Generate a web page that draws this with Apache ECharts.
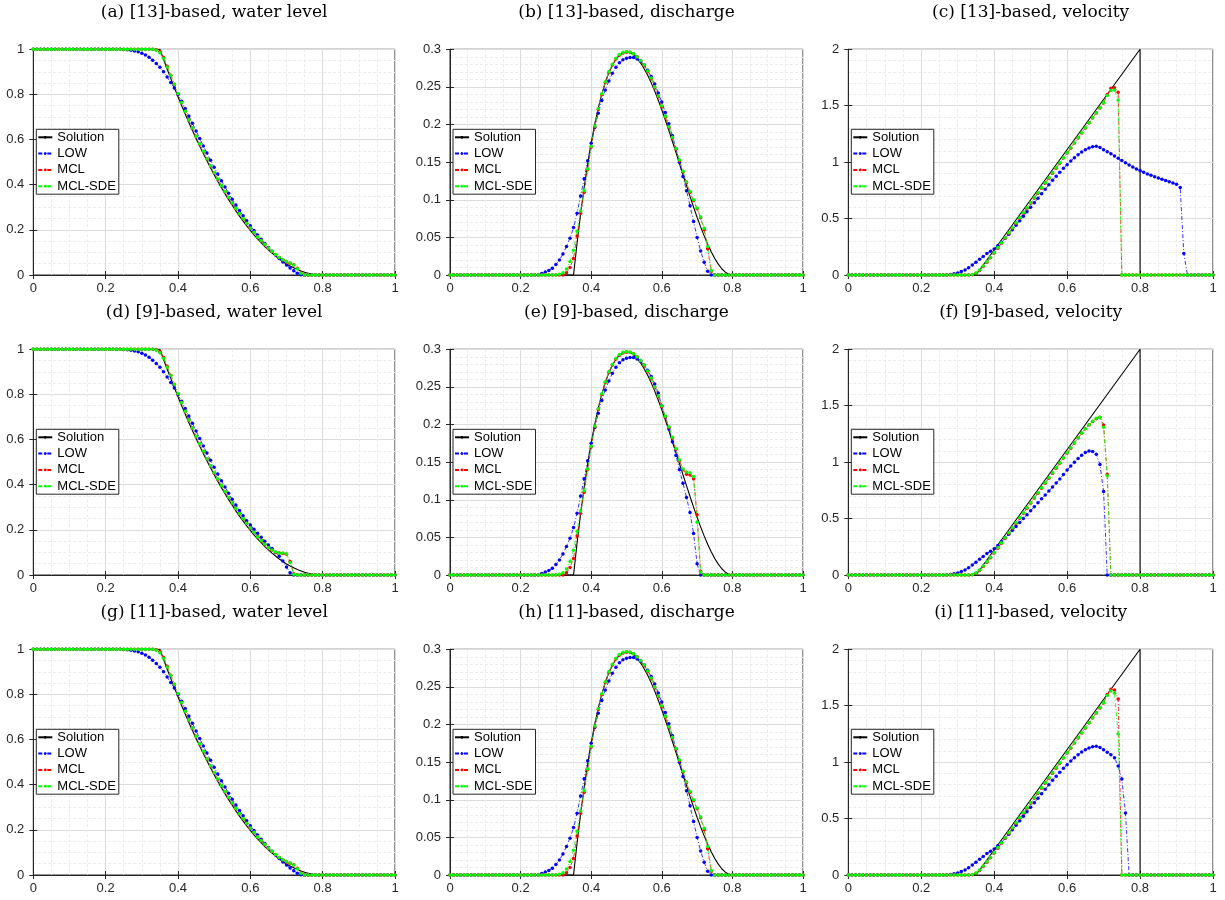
<!DOCTYPE html>
<html>
<head>
<meta charset="utf-8">
<script src="https://cdn.jsdelivr.net/npm/echarts@6/dist/echarts.min.js"></script>
<style>
  html, body { margin: 0; background: #fff; }
  #main { width: 1225px; height: 900px; }
</style>
</head>
<body>
<div id="main"></div>
<script>
// sample points of the numerical solutions (x = 0, 0.01, ..., 1)
const xGrid = Array.from({ length: 101 }, (_, i) => +(i / 100).toFixed(2));

const xTicks = [0, 0.2, 0.4, 0.6, 0.8, 1];
const levelTicks = [0, 0.2, 0.4, 0.6, 0.8, 1];
const dischargeTicks = [0, 0.05, 0.1, 0.15, 0.2, 0.25, 0.3];
const velocityTicks = [0, 0.5, 1, 1.5, 2];

const seriesNames = ['Solution', 'LOW', 'MCL', 'MCL-SDE'];

const titles = [
  '(a) [13]-based, water level', '(b) [13]-based, discharge', '(c) [13]-based, velocity',
  '(d) [9]-based, water level', '(e) [9]-based, discharge', '(f) [9]-based, velocity',
  '(g) [11]-based, water level', '(h) [11]-based, discharge', '(i) [11]-based, velocity'
];

// exact solution
const levelSol = [
  1,1,1,1,1,1,1,1,1,1,
  1,1,1,1,1,1,1,1,1,1,
  1,1,1,1,1,1,1,1,1,1,
  1,1,1,1,1,1,0.956,0.913,0.871,0.830,
  0.790,0.751,0.713,0.676,0.640,0.605,0.571,0.538,0.506,0.475,
  0.444,0.415,0.387,0.360,0.334,0.309,0.284,0.261,0.239,0.218,
  0.198,0.178,0.160,0.143,0.126,0.111,0.097,0.084,0.071,0.060,
  0.049,0.040,0.032,0.024,0.018,0.012,0.008,0.004,0.002,0.0005,
  0,0,0,0,0,0,0,0,0,0,
  0,0,0,0,0,0,0,0,0,0,
  0];
const dischargeSol = [
  0,0,0,0,0,0,0,0,0,0,
  0,0,0,0,0,0,0,0,0,0,
  0,0,0,0,0,0,0,0,0,0,
  0,0,0,0,0,0,0.0425,0.0812,0.1161,0.1476,
  0.1756,0.2003,0.2218,0.2404,0.2560,0.2689,0.2791,0.2868,0.2922,0.2953,
  0.2963,0.2953,0.2926,0.2880,0.2820,0.2743,0.2655,0.2554,0.2444,0.2323,
  0.2195,0.2060,0.1920,0.1775,0.1630,0.1481,0.1333,0.1187,0.1043,0.0903,
  0.0768,0.0640,0.0520,0.0409,0.0308,0.0219,0.0144,0.0083,0.0038,0.0010,
  0,0,0,0,0,0,0,0,0,0,
  0,0,0,0,0,0,0,0,0,0,
  0];
const velocitySolX = [0, 0.35, 0.8, 0.8, 1];
const velocitySol = [0, 0, 2, 0, 0];

// water level, [13]-based (also used for [11]-based)
const levelLow13 = [
  1,1,1,1,1,1,1,1,1,1,
  1,1,1,1,1,1,1,1,1,1,
  1,1,1,1,1,0.999,0.998,0.996,0.993,0.989,
  0.983,0.975,0.965,0.952,0.937,0.920,0.900,0.877,0.853,0.828,
  0.800,0.770,0.738,0.705,0.672,0.638,0.605,0.572,0.540,0.508,
  0.477,0.447,0.418,0.390,0.362,0.336,0.310,0.286,0.262,0.240,
  0.218,0.197,0.177,0.158,0.140,0.122,0.105,0.089,0.073,0.058,
  0.044,0.031,0.019,0.008,0.001,0,0,0,0,0,
  0,0,0,0,0,0,0,0,0,0,
  0,0,0,0,0,0,0,0,0,0,
  0];
const levelMcl13 = [
  1,1,1,1,1,1,1,1,1,1,
  1,1,1,1,1,1,1,1,1,1,
  1,1,1,1,1,1,1,1,1,1,
  1,1,1,1,0.998,0.990,0.965,0.925,0.885,0.845,
  0.803,0.763,0.724,0.686,0.650,0.614,0.580,0.547,0.514,0.483,
  0.453,0.424,0.396,0.369,0.343,0.318,0.294,0.271,0.249,0.228,
  0.207,0.188,0.169,0.152,0.135,0.119,0.104,0.090,0.077,0.066,
  0.058,0.052,0.045,0.030,0.010,0,0,0,0,0,
  0,0,0,0,0,0,0,0,0,0,
  0,0,0,0,0,0,0,0,0,0,
  0];
const levelSde13 = [
  1,1,1,1,1,1,1,1,1,1,
  1,1,1,1,1,1,1,1,1,1,
  1,1,1,1,1,1,1,1,1,1,
  1,1,1,1,0.996,0.985,0.960,0.922,0.884,0.845,
  0.804,0.764,0.725,0.687,0.651,0.615,0.581,0.548,0.515,0.484,
  0.454,0.425,0.397,0.370,0.344,0.319,0.295,0.272,0.250,0.229,
  0.208,0.189,0.170,0.153,0.136,0.120,0.105,0.091,0.078,0.068,
  0.060,0.053,0.044,0.028,0.008,0,0,0,0,0,
  0,0,0,0,0,0,0,0,0,0,
  0,0,0,0,0,0,0,0,0,0,
  0];

// water level, [9]-based
const levelLow9 = [
  1,1,1,1,1,1,1,1,1,1,
  1,1,1,1,1,1,1,1,1,1,
  1,1,1,1,1,0.999,0.998,0.996,0.993,0.989,
  0.983,0.975,0.965,0.952,0.937,0.920,0.900,0.877,0.853,0.828,
  0.800,0.770,0.738,0.705,0.672,0.638,0.605,0.572,0.540,0.508,
  0.477,0.447,0.418,0.390,0.362,0.336,0.310,0.286,0.262,0.240,
  0.222,0.203,0.185,0.167,0.150,0.133,0.117,0.100,0.083,0.062,
  0.035,0.010,0,0,0,0,0,0,0,0,
  0,0,0,0,0,0,0,0,0,0,
  0,0,0,0,0,0,0,0,0,0,
  0];
const levelMcl9 = [
  1,1,1,1,1,1,1,1,1,1,
  1,1,1,1,1,1,1,1,1,1,
  1,1,1,1,1,1,1,1,1,1,
  1,1,1,1,0.998,0.990,0.965,0.925,0.885,0.845,
  0.803,0.763,0.724,0.686,0.650,0.614,0.580,0.547,0.514,0.483,
  0.453,0.424,0.396,0.369,0.343,0.318,0.294,0.271,0.249,0.228,
  0.207,0.188,0.169,0.152,0.135,0.121,0.110,0.101,0.097,0.095,
  0.092,0.060,0.005,0,0,0,0,0,0,0,
  0,0,0,0,0,0,0,0,0,0,
  0,0,0,0,0,0,0,0,0,0,
  0];
const levelSde9 = [
  1,1,1,1,1,1,1,1,1,1,
  1,1,1,1,1,1,1,1,1,1,
  1,1,1,1,1,1,1,1,1,1,
  1,1,1,1,0.996,0.985,0.960,0.922,0.884,0.845,
  0.804,0.764,0.725,0.687,0.651,0.615,0.581,0.548,0.515,0.484,
  0.454,0.425,0.397,0.370,0.344,0.319,0.295,0.272,0.250,0.229,
  0.208,0.189,0.170,0.153,0.136,0.122,0.111,0.102,0.098,0.097,
  0.094,0.055,0.003,0,0,0,0,0,0,0,
  0,0,0,0,0,0,0,0,0,0,
  0,0,0,0,0,0,0,0,0,0,
  0];

// discharge, [13]-based (also used for [11]-based)
const dischargeLow13 = [
  0,0,0,0,0,0,0,0,0,0,
  0,0,0,0,0,0,0,0,0,0,
  0,0,0,0,0,0,0.002,0.004,0.006,0.009,
  0.014,0.020,0.028,0.038,0.049,0.063,0.082,0.105,0.128,0.152,
  0.175,0.196,0.215,0.232,0.246,0.258,0.268,0.276,0.282,0.286,
  0.288,0.289,0.289,0.287,0.284,0.279,0.272,0.264,0.254,0.242,
  0.230,0.216,0.201,0.185,0.168,0.150,0.131,0.112,0.092,0.071,
  0.050,0.032,0.017,0.005,0,0,0,0,0,0,
  0,0,0,0,0,0,0,0,0,0,
  0,0,0,0,0,0,0,0,0,0,
  0];
const dischargeMcl13 = [
  0,0,0,0,0,0,0,0,0,0,
  0,0,0,0,0,0,0,0,0,0,
  0,0,0,0,0,0,0,0,0,0,
  0,0,0,0.003,0.010,0.022,0.052,0.082,0.110,0.140,
  0.170,0.197,0.220,0.240,0.256,0.269,0.279,0.287,0.292,0.295,
  0.296,0.296,0.294,0.290,0.285,0.278,0.270,0.261,0.249,0.237,
  0.224,0.210,0.196,0.182,0.167,0.152,0.137,0.123,0.110,0.099,
  0.088,0.076,0.060,0.035,0.005,0,0,0,0,0,
  0,0,0,0,0,0,0,0,0,0,
  0,0,0,0,0,0,0,0,0,0,
  0];
const dischargeSde13 = [
  0,0,0,0,0,0,0,0,0,0,
  0,0,0,0,0,0,0,0,0,0,
  0,0,0,0,0,0,0,0,0,0,
  0,0.001,0.003,0.008,0.018,0.033,0.058,0.085,0.112,0.141,
  0.171,0.198,0.221,0.241,0.257,0.270,0.280,0.288,0.293,0.296,
  0.297,0.296,0.294,0.290,0.285,0.279,0.271,0.262,0.250,0.238,
  0.225,0.211,0.197,0.183,0.168,0.153,0.138,0.124,0.111,0.100,
  0.089,0.077,0.062,0.038,0.006,0,0,0,0,0,
  0,0,0,0,0,0,0,0,0,0,
  0,0,0,0,0,0,0,0,0,0,
  0];

// discharge, [9]-based
const dischargeLow9 = [
  0,0,0,0,0,0,0,0,0,0,
  0,0,0,0,0,0,0,0,0,0,
  0,0,0,0,0,0,0.002,0.004,0.006,0.009,
  0.014,0.020,0.028,0.038,0.049,0.063,0.082,0.105,0.128,0.152,
  0.175,0.196,0.215,0.232,0.246,0.258,0.268,0.276,0.282,0.286,
  0.288,0.289,0.289,0.287,0.284,0.279,0.272,0.264,0.254,0.242,
  0.225,0.210,0.194,0.177,0.159,0.140,0.122,0.103,0.083,0.055,
  0.015,0,0,0,0,0,0,0,0,0,
  0,0,0,0,0,0,0,0,0,0,
  0,0,0,0,0,0,0,0,0,0,
  0];
const dischargeMcl9 = [
  0,0,0,0,0,0,0,0,0,0,
  0,0,0,0,0,0,0,0,0,0,
  0,0,0,0,0,0,0,0,0,0,
  0,0,0,0.003,0.010,0.022,0.052,0.082,0.110,0.140,
  0.170,0.197,0.220,0.240,0.256,0.269,0.279,0.287,0.292,0.295,
  0.296,0.296,0.294,0.290,0.285,0.278,0.270,0.261,0.249,0.237,
  0.224,0.210,0.196,0.182,0.167,0.152,0.140,0.134,0.133,0.128,
  0.080,0.005,0,0,0,0,0,0,0,0,
  0,0,0,0,0,0,0,0,0,0,
  0,0,0,0,0,0,0,0,0,0,
  0];
const dischargeSde9 = [
  0,0,0,0,0,0,0,0,0,0,
  0,0,0,0,0,0,0,0,0,0,
  0,0,0,0,0,0,0,0,0,0,
  0,0.001,0.003,0.008,0.018,0.033,0.058,0.085,0.112,0.141,
  0.171,0.198,0.221,0.241,0.257,0.270,0.280,0.288,0.293,0.296,
  0.297,0.296,0.294,0.290,0.285,0.279,0.271,0.262,0.250,0.238,
  0.225,0.211,0.197,0.183,0.168,0.153,0.141,0.137,0.136,0.131,
  0.070,0.004,0,0,0,0,0,0,0,0,
  0,0,0,0,0,0,0,0,0,0,
  0,0,0,0,0,0,0,0,0,0,
  0];

// velocity, [13]-based
const velocityLow13 = [
  0,0,0,0,0,0,0,0,0,0,
  0,0,0,0,0,0,0,0,0,0,
  0,0,0,0,0,0,0,0,0.004,0.010,
  0.018,0.030,0.045,0.065,0.088,0.113,0.140,0.165,0.190,0.210,
  0.230,0.260,0.290,0.325,0.360,0.400,0.440,0.480,0.520,0.560,
  0.600,0.640,0.680,0.720,0.760,0.800,0.840,0.875,0.910,0.945,
  0.978,1.010,1.040,1.066,1.090,1.110,1.126,1.137,1.140,1.130,
  1.110,1.093,1.075,1.055,1.035,1.015,0.995,0.975,0.957,0.940,
  0.925,0.910,0.896,0.883,0.871,0.860,0.849,0.838,0.827,0.816,
  0.804,0.775,0.190,0,0,0,0,0,0,0,
  0];
const velocityMcl13 = [
  0,0,0,0,0,0,0,0,0,0,
  0,0,0,0,0,0,0,0,0,0,
  0,0,0,0,0,0,0,0,0,0,
  0,0,0,0,0.003,0.015,0.040,0.075,0.113,0.153,
  0.195,0.238,0.281,0.325,0.370,0.414,0.458,0.503,0.547,0.592,
  0.636,0.680,0.725,0.769,0.814,0.858,0.902,0.947,0.991,1.036,
  1.080,1.124,1.169,1.213,1.258,1.302,1.346,1.391,1.435,1.480,
  1.525,1.600,1.655,1.660,1.620,0,0,0,0,0,
  0,0,0,0,0,0,0,0,0,0,
  0,0,0,0,0,0,0,0,0,0,
  0];
const velocitySde13 = [
  0,0,0,0,0,0,0,0,0,0,
  0,0,0,0,0,0,0,0,0,0,
  0,0,0,0,0,0,0,0,0,0,
  0,0,0,0,0.004,0.018,0.045,0.080,0.118,0.158,
  0.200,0.243,0.286,0.330,0.374,0.418,0.462,0.507,0.551,0.595,
  0.640,0.684,0.728,0.773,0.817,0.861,0.906,0.950,0.994,1.039,
  1.083,1.127,1.172,1.216,1.260,1.305,1.349,1.393,1.438,1.482,
  1.527,1.590,1.635,1.640,1.550,0,0,0,0,0,
  0,0,0,0,0,0,0,0,0,0,
  0,0,0,0,0,0,0,0,0,0,
  0];

// velocity, [9]-based
const velocityLow9 = [
  0,0,0,0,0,0,0,0,0,0,
  0,0,0,0,0,0,0,0,0,0,
  0,0,0,0,0,0,0,0,0.004,0.010,
  0.018,0.030,0.045,0.065,0.088,0.113,0.140,0.165,0.190,0.210,
  0.232,0.262,0.295,0.328,0.362,0.396,0.430,0.465,0.500,0.535,
  0.570,0.605,0.640,0.675,0.710,0.745,0.780,0.815,0.850,0.890,
  0.930,0.965,1.000,1.033,1.062,1.085,1.098,1.095,1.070,0.980,
  0.740,0,0,0,0,0,0,0,0,0,
  0,0,0,0,0,0,0,0,0,0,
  0,0,0,0,0,0,0,0,0,0,
  0];
const velocityMcl9 = [
  0,0,0,0,0,0,0,0,0,0,
  0,0,0,0,0,0,0,0,0,0,
  0,0,0,0,0,0,0,0,0,0,
  0,0,0,0,0.003,0.015,0.040,0.075,0.113,0.153,
  0.195,0.238,0.281,0.325,0.370,0.414,0.458,0.503,0.547,0.592,
  0.636,0.680,0.725,0.769,0.814,0.858,0.902,0.947,0.991,1.036,
  1.080,1.124,1.169,1.213,1.255,1.295,1.330,1.360,1.385,1.397,
  1.330,0.890,0,0,0,0,0,0,0,0,
  0,0,0,0,0,0,0,0,0,0,
  0,0,0,0,0,0,0,0,0,0,
  0];
const velocitySde9 = [
  0,0,0,0,0,0,0,0,0,0,
  0,0,0,0,0,0,0,0,0,0,
  0,0,0,0,0,0,0,0,0,0,
  0,0,0,0,0.004,0.018,0.045,0.080,0.118,0.158,
  0.200,0.243,0.286,0.330,0.374,0.418,0.462,0.507,0.551,0.595,
  0.640,0.684,0.728,0.773,0.817,0.861,0.906,0.950,0.994,1.039,
  1.083,1.127,1.172,1.216,1.258,1.297,1.332,1.362,1.388,1.398,
  1.310,0.880,0,0,0,0,0,0,0,0,
  0,0,0,0,0,0,0,0,0,0,
  0,0,0,0,0,0,0,0,0,0,
  0];

// velocity, [11]-based
const velocityLow11 = [
  0,0,0,0,0,0,0,0,0,0,
  0,0,0,0,0,0,0,0,0,0,
  0,0,0,0,0,0,0,0,0.004,0.010,
  0.018,0.030,0.045,0.065,0.088,0.113,0.140,0.165,0.190,0.210,
  0.230,0.260,0.290,0.325,0.360,0.400,0.440,0.480,0.520,0.560,
  0.600,0.640,0.680,0.720,0.760,0.800,0.840,0.875,0.910,0.945,
  0.978,1.010,1.040,1.066,1.090,1.110,1.126,1.137,1.140,1.130,
  1.110,1.088,1.065,1.040,0.966,0.850,0.550,0,0,0,
  0,0,0,0,0,0,0,0,0,0,
  0,0,0,0,0,0,0,0,0,0,
  0];
const velocityMcl11 = [
  0,0,0,0,0,0,0,0,0,0,
  0,0,0,0,0,0,0,0,0,0,
  0,0,0,0,0,0,0,0,0,0,
  0,0,0,0,0.003,0.015,0.040,0.075,0.113,0.153,
  0.195,0.238,0.281,0.325,0.370,0.414,0.458,0.503,0.547,0.592,
  0.636,0.680,0.725,0.769,0.814,0.858,0.902,0.947,0.991,1.036,
  1.080,1.124,1.169,1.213,1.258,1.302,1.346,1.391,1.435,1.480,
  1.525,1.600,1.645,1.640,1.560,0,0,0,0,0,
  0,0,0,0,0,0,0,0,0,0,
  0,0,0,0,0,0,0,0,0,0,
  0];
const velocitySde11 = [
  0,0,0,0,0,0,0,0,0,0,
  0,0,0,0,0,0,0,0,0,0,
  0,0,0,0,0,0,0,0,0,0,
  0,0,0,0,0.004,0.018,0.045,0.080,0.118,0.158,
  0.200,0.243,0.286,0.330,0.374,0.418,0.462,0.507,0.551,0.595,
  0.640,0.684,0.728,0.773,0.817,0.861,0.906,0.950,0.994,1.039,
  1.083,1.127,1.172,1.216,1.260,1.305,1.349,1.393,1.438,1.482,
  1.527,1.590,1.630,1.610,1.250,0,0,0,0,0,
  0,0,0,0,0,0,0,0,0,0,
  0,0,0,0,0,0,0,0,0,0,
  0];

// panel layout (pixels)
const colLeft = [33.3, 450, 848.3];
const colWidth = [361.7, 353, 364.7];
const rowTop = [49.3, 349.3, 649.3];
const plotHeight = 225.7;

const pair = (xs, ys) => xs.map((x, i) => [x, ys[i]]);

// per panel: [solution, LOW, MCL, MCL-SDE]
const panels = [
  [pair(xGrid, levelSol), levelLow13, levelMcl13, levelSde13],
  [pair(xGrid, dischargeSol), dischargeLow13, dischargeMcl13, dischargeSde13],
  [pair(velocitySolX, velocitySol), velocityLow13, velocityMcl13, velocitySde13],
  [pair(xGrid, levelSol), levelLow9, levelMcl9, levelSde9],
  [pair(xGrid, dischargeSol), dischargeLow9, dischargeMcl9, dischargeSde9],
  [pair(velocitySolX, velocitySol), velocityLow9, velocityMcl9, velocitySde9],
  [pair(xGrid, levelSol), levelLow13, levelMcl13, levelSde13],
  [pair(xGrid, dischargeSol), dischargeLow13, dischargeMcl13, dischargeSde13],
  [pair(velocitySolX, velocitySol), velocityLow11, velocityMcl11, velocitySde11]
];

const yTickSets = [levelTicks, dischargeTicks, velocityTicks];
const yMinorSplit = [4, 5, 5];
const colors = ['#000000', '#0000ff', '#ff0000', '#00ff00'];

const axisText = { fontFamily: 'Liberation Sans', fontSize: 13, color: '#262626' };
const grids = [], xAxes = [], yAxes = [], legends = [], series = [], texts = [];
const boxX = [], boxY = [];

panels.forEach((p, i) => {
  const row = Math.floor(i / 3), col = i % 3;
  const yt = yTickSets[col];
  grids.push({
    left: colLeft[col], top: rowTop[row], width: colWidth[col], height: plotHeight,
    show: true, borderColor: '#262626', borderWidth: 1, backgroundColor: '#fff'
  });
  const xBase = {
    type: 'value', gridIndex: i, min: xTicks[0], max: xTicks[xTicks.length - 1],
    interval: xTicks[1] - xTicks[0],
    axisLine: { lineStyle: { color: '#262626', width: 1 } },
    axisTick: { inside: true, length: 4, lineStyle: { color: '#262626' } }
  };
  const yBase = {
    type: 'value', gridIndex: i, min: yt[0], max: yt[yt.length - 1],
    interval: yt[1] - yt[0],
    axisLine: { lineStyle: { color: '#262626', width: 1 } },
    axisTick: { inside: true, length: 4, lineStyle: { color: '#262626' } }
  };
  xAxes.push(Object.assign({}, xBase, {
    axisLabel: Object.assign({ margin: 7 }, axisText),
    splitLine: { show: true, lineStyle: { color: '#dcdcdc', width: 1 } },
    minorTick: { show: false, splitNumber: 4 },
    minorSplitLine: { show: true, lineStyle: { color: '#ececec', width: 1, type: [3, 2] } }
  }));
  yAxes.push(Object.assign({}, yBase, {
    axisLabel: Object.assign({ margin: 9 }, axisText),
    splitLine: { show: true, lineStyle: { color: '#dcdcdc', width: 1 } },
    minorTick: { show: false, splitNumber: yMinorSplit[col] },
    minorSplitLine: { show: true, lineStyle: { color: '#ececec', width: 1, type: [3, 2] } }
  }));
  // top and right box ticks
  boxX.push(Object.assign({}, xBase, { position: 'top', axisLabel: { show: false }, splitLine: { show: false } }));
  boxY.push(Object.assign({}, yBase, { position: 'right', axisLabel: { show: false }, splitLine: { show: false } }));
  legends.push({
    left: colLeft[col] + 3, top: rowTop[row] + 80, orient: 'vertical',
    data: seriesNames, selectedMode: false,
    itemWidth: 14, itemHeight: 3.5, itemGap: 2.3,
    padding: [1, 3, 1, 1],
    backgroundColor: '#fff', borderColor: '#262626', borderWidth: 1,
    textStyle: { fontFamily: 'Liberation Sans', fontSize: 13, color: '#000', lineHeight: 14 }
  });
  texts.push({
    type: 'text', x: colLeft[col] + colWidth[col] / 2, y: rowTop[row] - 37,
    style: {
      text: titles[i], fill: '#000', font: '17px "DejaVu Serif"',
      textAlign: 'center', textVerticalAlign: 'middle'
    }
  });
  p.forEach((data, k) => {
    const s = {
      name: seriesNames[k], type: 'line', xAxisIndex: i, yAxisIndex: i,
      data: k === 0 ? data : pair(xGrid, data),
      color: colors[k], silent: true, animation: false, clip: true
    };
    if (k === 0) {
      s.symbol = 'none';
      s.lineStyle = { color: colors[k], width: 1.1 };
    } else {
      s.symbol = 'circle';
      s.symbolSize = 3.5;
      s.showAllSymbol = true;
      s.itemStyle = { color: colors[k] };
      s.lineStyle = { color: colors[k], width: 0.8, type: [4, 2, 1, 2] };
    }
    series.push(s);
  });
});

const chart = echarts.init(document.getElementById('main'));
chart.setOption({
  animation: false,
  grid: grids,
  xAxis: xAxes.concat(boxX),
  yAxis: yAxes.concat(boxY),
  legend: legends,
  graphic: texts,
  series: series
});
</script>
</body>
</html>
